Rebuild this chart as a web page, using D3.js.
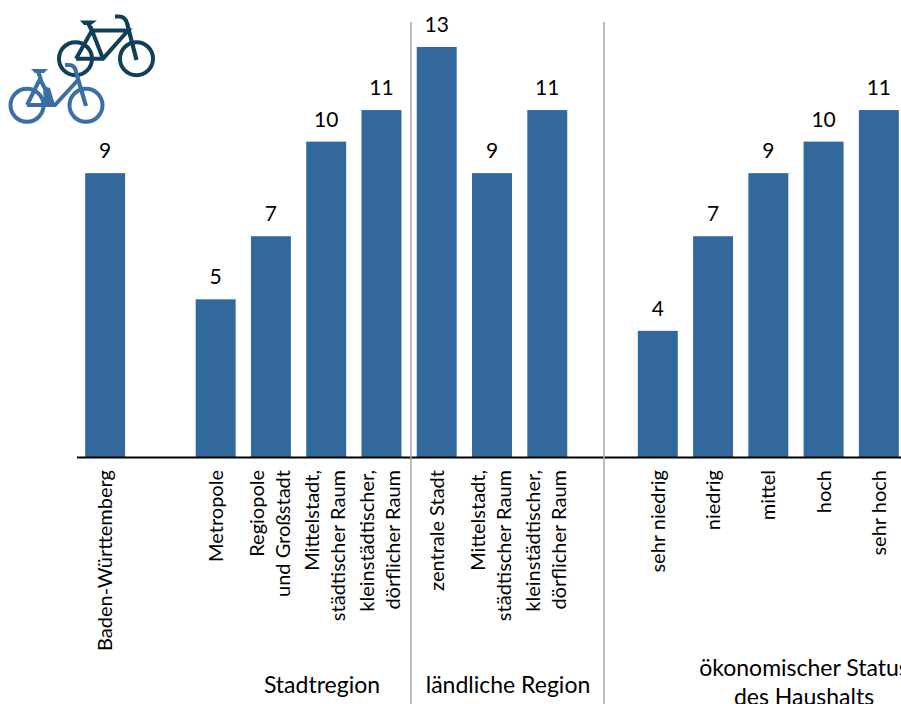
<!DOCTYPE html>
<html><head><meta charset="utf-8">
<script src="https://cdnjs.cloudflare.com/ajax/libs/d3/7.8.5/d3.min.js"></script>
<style>html,body{margin:0;padding:0;background:#fff;overflow:hidden}svg{display:block}text{font-family:"Lato",sans-serif;fill:#000}</style>
</head><body><svg id="c" width="901" height="704"></svg>
<script>
const slots=["Baden-Württemberg","_a","Metropole","Regiopole|und Großstadt","Mittelstadt,|städtischer Raum","kleinstädtischer,|dörflicher Raum","zentrale Stadt","Mittelstadt,|städtischer Raum ","kleinstädtischer,|dörflicher Raum ","_b","sehr niedrig","niedrig","mittel","hoch","sehr hoch"];
const categories=slots.filter(s=>!s.startsWith("_"));
const values=[9,5,7,10,11,13,9,11,4,7,9,10,11];
const groupLabels=[["Stadtregion"],["ländliche Region"],["ökonomischer Status","des Haushalts"]];
const groupCenters=[322,508,804];
const separators=[411,604];

const svg=d3.select("#c");
const x=d3.scaleBand().domain(slots).range([77.5,906.5]).paddingInner(0.277).paddingOuter(0.1385);
const y=d3.scaleLinear().domain([0,13]).range([457,47]);
const data=categories.map((c,i)=>({c,v:values[i]}));

svg.selectAll("rect.bar").data(data).join("rect").attr("class","bar")
 .attr("x",d=>x(d.c)).attr("width",x.bandwidth()).attr("y",d=>y(d.v)).attr("height",d=>y(0)-y(d.v)).attr("fill","#33689c");
svg.selectAll("text.val").data(data).join("text").attr("class","val")
 .attr("x",d=>x(d.c)+x.bandwidth()/2).attr("y",d=>y(d.v)-15).attr("text-anchor","middle").attr("font-size",21).text(d=>d.v);

svg.append("line").attr("x1",77).attr("x2",901).attr("y1",457.5).attr("y2",457.5).attr("stroke","#000").attr("stroke-width",2);
svg.selectAll("line.sep").data(separators).join("line").attr("class","sep")
 .attr("x1",d=>d).attr("x2",d=>d).attr("y1",22).attr("y2",704).attr("stroke","#a6a6a6").attr("stroke-width",1.5);

const lab=svg.selectAll("g.lab").data(data).join("g").attr("class","lab")
 .attr("transform",d=>`translate(${x(d.c)+x.bandwidth()/2},470) rotate(-90)`);
lab.each(function(d){
  const lines=d.c.trim().split("|");
  const sp=26;
  d3.select(this).selectAll("text").data(lines).join("text")
   .attr("text-anchor","end").attr("font-size",20)
   .attr("y",(l,i)=>(i-(lines.length-1)/2)*sp+7-(lines.length>1?1:0)).text(l=>l);
});

groupLabels.forEach((g,i)=>g.forEach((l,j)=>{
  svg.append("text").attr("x",groupCenters[i]).attr("y",(i==2?676:693)+j*28.5).attr("text-anchor","middle").attr("font-size",23).text(l);
}));

function wheel(g,cx,cy,col){g.append("circle").attr("cx",cx).attr("cy",cy).attr("r",16.5).attr("fill","none").attr("stroke",col).attr("stroke-width",4);}
function stroke(g,p,col,w){g.append("path").attr("d",p).attr("fill","none").attr("stroke",col).attr("stroke-width",w).attr("stroke-linejoin","miter");}
const d=svg.append("g"), dc="#123f58";
wheel(d,75.5,58.7,dc);wheel(d,136.5,58.7,dc);
stroke(d,"M76 58.7H103L128 30.5H92M76 58.7L92 30.5L103 58.7M88 23L92 31",dc,4);
stroke(d,"M115 16.5H119Q125 16.5 127 23L136.5 60",dc,4.2);
d.append("path").attr("d","M80 20.5H97L91 25H84Z").attr("fill",dc);
const b=svg.append("g"), bc="#3a6ea5";
wheel(b,27,105.3,bc);wheel(b,86,105.3,bc);
stroke(b,"M27 105H55L78 80M27 105L40 79L53 104M38 71L41 80",bc,4);
stroke(b,"M65 65H69Q75 65 76 72L86 106",bc,4.2);
b.append("path").attr("d","M31 69H48L44 73H35Z").attr("fill",bc);
b.append("path").attr("d","M43 86L50 88L54 102L44 105Z").attr("fill",bc);
</script></body></html>
